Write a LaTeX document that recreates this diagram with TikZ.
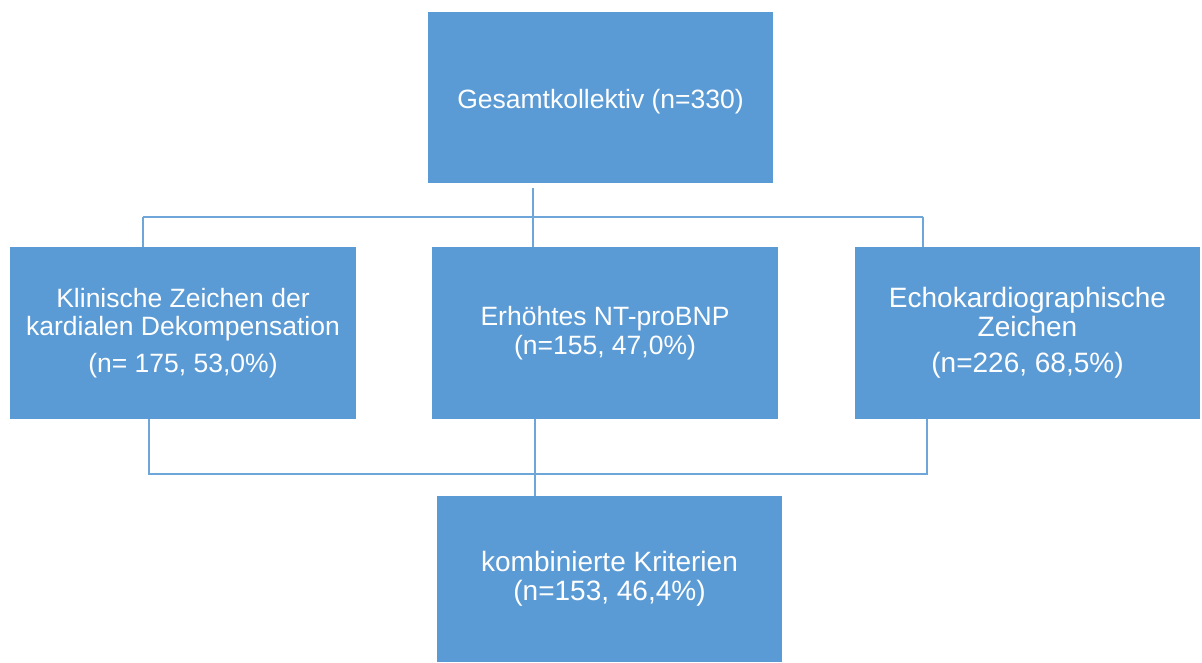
\documentclass[tikz,border=0pt]{standalone}
\usepackage{fontspec}
\setmainfont{Liberation Sans}
\definecolor{boxblue}{HTML}{5B9BD5}
\definecolor{lineblue}{HTML}{6FA6DA}
\begin{document}
\begin{tikzpicture}[x=1pt,y=-1pt,
  box/.style={fill=boxblue, draw=none, inner sep=0pt, text=white, align=center,
    font=\fontsize{26.5}{28.5}\selectfont},
  bigbox/.style={box, font=\fontsize{28}{29}\selectfont},
  conn/.style={draw=lineblue, line width=1.5pt}]
\useasboundingbox (0,0) rectangle (1202,662);
\node[box, minimum width=345pt, minimum height=171pt, text depth=0pt] (top) at (600.5,97.5) {\raisebox{-3pt}{Gesamtkollektiv (n=330)}};
\node[box, minimum width=346pt, minimum height=172pt] (left) at (183,333) {Klinische Zeichen der\\kardialen Dekompensation\\[8pt](n= 175, 53,0\%)};
\node[box, minimum width=346pt, minimum height=172pt] (mid) at (605,333) {Erhöhtes NT-proBNP\\(n=155, 47,0\%)};
\node[bigbox, minimum width=345pt, minimum height=172pt] (right) at (1027.5,333) {Echokardiographische\\Zeichen\\[7pt](n=226, 68,5\%)};
\node[bigbox, minimum width=345pt, minimum height=166pt] (bot) at (609.5,579) {kombinierte Kriterien\\(n=153, 46,4\%)};
% upper connectors
\coordinate (ts) at (533,188);
\coordinate (lj) at (143,217);
\coordinate (rj) at (923,217);
\draw[conn] (ts) -- (ts |- mid.north);
\draw[conn] (lj) -- (rj);
\draw[conn] (lj) -- (lj |- left.north);
\draw[conn] (rj) -- (rj |- right.north);
% lower connectors
\coordinate (lb) at (149,419);
\coordinate (rb) at (927,419);
\coordinate (mb) at (535,419);
\draw[conn] (lb) -- (149,474) -- (927,474) -- (rb);
\draw[conn] (mb) -- (mb |- bot.north);
\end{tikzpicture}
\end{document}
